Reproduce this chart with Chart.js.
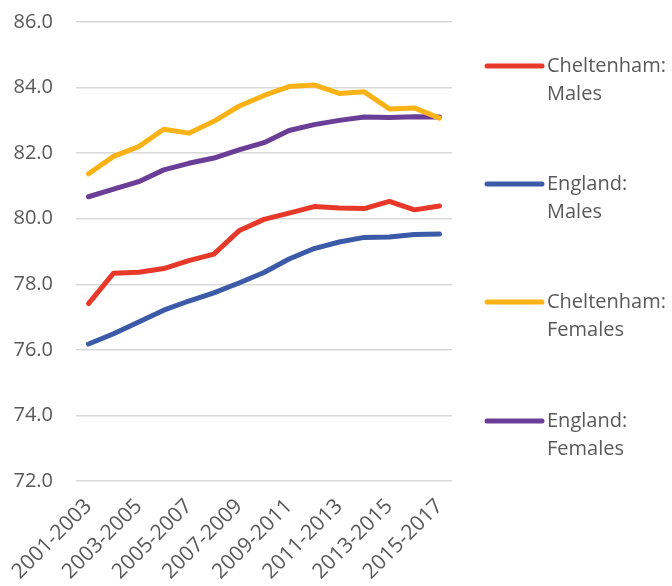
<!DOCTYPE html>
<html>
<head>
<meta charset="utf-8">
<script src="https://cdn.jsdelivr.net/npm/chart.js@4/dist/chart.umd.min.js"></script>
<style>
  html, body { margin: 0; padding: 0; background: #ffffff; }
  #wrap { position: relative; width: 672px; height: 586px; }
</style>
</head>
<body>
<div id="wrap"><canvas id="chart" width="672" height="586"></canvas></div>
<script>
// Life expectancy at birth (years), three-year rolling periods
const periods = [
  '2001-2003', '2002-2004', '2003-2005', '2004-2006', '2005-2007',
  '2006-2008', '2007-2009', '2008-2010', '2009-2011', '2010-2012',
  '2011-2013', '2012-2014', '2013-2015', '2014-2016', '2015-2017'
];
const cheltenhamMales   = [77.41, 78.34, 78.37, 78.48, 78.72, 78.92, 79.63, 79.98, 80.17, 80.37, 80.33, 80.31, 80.53, 80.27, 80.39];
const englandMales      = [76.18, 76.49, 76.85, 77.21, 77.49, 77.74, 78.04, 78.36, 78.77, 79.09, 79.29, 79.43, 79.44, 79.52, 79.53];
const cheltenhamFemales = [81.37, 81.90, 82.20, 82.73, 82.61, 82.97, 83.43, 83.76, 84.03, 84.08, 83.82, 83.87, 83.35, 83.38, 83.07];
const englandFemales    = [80.67, 80.90, 81.13, 81.49, 81.69, 81.85, 82.10, 82.32, 82.69, 82.87, 83.00, 83.10, 83.09, 83.11, 83.10];
const yTicks = [72, 74, 76, 78, 80, 82, 84, 86];

const seriesNames = [
  ['Cheltenham:', 'Males'],
  ['England:', 'Males'],
  ['Cheltenham:', 'Females'],
  ['England:', 'Females']
];
const seriesColors = ['#E8382A', '#3B5BA9', '#FAB216', '#6A3D96'];

const FONT = '"Open Sans", "DejaVu Sans", sans-serif';
const TEXT = '#595959';

// Two-line legend drawn in the right margin
const sideLegend = {
  id: 'sideLegend',
  afterDraw(chart) {
    const ctx = chart.ctx;
    const left = chart.chartArea.right + 35;
    const rows = [66, 184, 302, 421];
    ctx.save();
    ctx.font = '20px ' + FONT;
    ctx.fillStyle = TEXT;
    ctx.textBaseline = 'middle';
    ctx.textAlign = 'left';
    chart.data.datasets.forEach((ds, i) => {
      const y = rows[i];
      ctx.strokeStyle = ds.borderColor;
      ctx.lineWidth = 5;
      ctx.lineCap = 'round';
      ctx.beginPath();
      ctx.moveTo(left, y);
      ctx.lineTo(left + 55, y);
      ctx.stroke();
      const lines = seriesNames[i];
      lines.forEach((t, k) => ctx.fillText(t, left + 60, y + k * 28));
    });
    ctx.restore();
  }
};

const datasets = [cheltenhamMales, englandMales, cheltenhamFemales, englandFemales].map((d, i) => ({
  label: seriesNames[i].join(' '),
  data: d,
  borderColor: seriesColors[i],
  backgroundColor: seriesColors[i],
  borderWidth: 5,
  pointRadius: 0,
  tension: 0,
  borderCapStyle: 'round',
  borderJoinStyle: 'round'
}));

new Chart(document.getElementById('chart'), {
  type: 'line',
  data: { labels: periods, datasets },
  plugins: [sideLegend],
  options: {
    responsive: false,
    animation: false,
    layout: { padding: { top: 22, right: 220, left: 0, bottom: 0 } },
    plugins: {
      legend: { display: false },
      tooltip: { enabled: false }
    },
    scales: {
      x: {
        offset: true,
        grid: { display: false, drawTicks: false },
        border: { display: false },
        afterFit(s) { s.height = 105; s.paddingLeft = 0; s.paddingRight = 0; },
        ticks: {
          autoSkip: false,
          minRotation: 45,
          maxRotation: 45,
          padding: 13,
          color: TEXT,
          font: { family: FONT, size: 21 },
          callback(v, i) { return i % 2 === 0 ? periods[i] : null; }
        }
      },
      y: {
        min: 72,
        max: 86,
        afterBuildTicks(s) { s.ticks = yTicks.map(v => ({ value: v })); },
        afterFit(s) { s.width = 76; s.paddingTop = 0; s.paddingBottom = 0; },
        grid: { color: '#D9D9D9', lineWidth: 1.5, drawTicks: false },
        border: { display: false },
        ticks: {
          padding: 23,
          color: TEXT,
          font: { family: FONT, size: 20 },
          callback(v) { return Number(v).toFixed(1); }
        }
      }
    }
  }
});
</script>
</body>
</html>
